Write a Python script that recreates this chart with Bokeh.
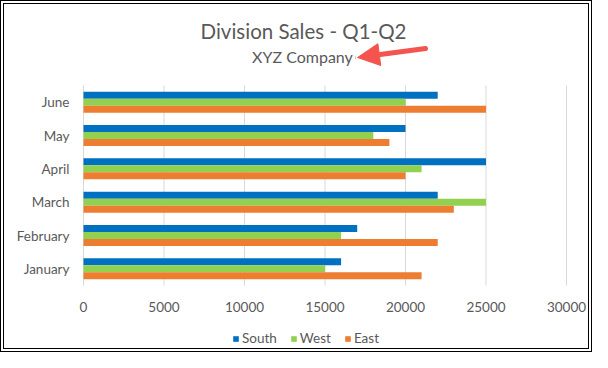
from bokeh.plotting import figure
from bokeh.models import (FixedTicker, Legend, LegendItem, Label, Arrow, NormalHead,
                          ColumnDataSource, Range1d)
from bokeh.core.properties import value
from bokeh.embed import file_html
from bokeh.resources import INLINE

months = ["January", "February", "March", "April", "May", "June"]
series = ["South", "West", "East"]
south = [16000, 17000, 22000, 25000, 20000, 22000]
west = [15000, 16000, 25000, 21000, 18000, 20000]
east = [21000, 22000, 23000, 20000, 19000, 25000]
x_ticks = [0, 5000, 10000, 15000, 20000, 25000, 30000]
x_tick_labels = [str(t) for t in x_ticks]
colors = ["#0070C0", "#92D050", "#ED7D31"]
title_text = "Division Sales - Q1-Q2"
subtitle_text = "XYZ Company"

FONT = "Lato"
TXT = "#595959"
RED = "#F4534E"
n = len(months)
y_top = 7.95
y_bottom = -2.01
x_start = -497
x_end = 31366

p = figure(width=592, height=352, output_backend="svg", toolbar_location=None,
           x_range=Range1d(x_start, x_end), y_range=Range1d(y_bottom, y_top),
           x_axis_location=None,
           min_border_left=71, min_border_right=8, min_border_top=16, min_border_bottom=4)
p.title.visible = False
p.styles = {"border": "4px double #000000"}
p.outline_line_color = None
p.background_fill_color = "white"
p.border_fill_color = "white"

# vertical gridlines over the category area only
p.segment(x0=x_ticks, x1=x_ticks, y0=[0] * len(x_ticks), y1=[n] * len(x_ticks),
          line_color="#D9D9D9", line_width=1)

bar_h = 0.21
offsets = [bar_h, 0.0, -bar_h]
renderers = []
for vals, off, col, name in zip([south, west, east], offsets, colors, series):
    src = ColumnDataSource(dict(y=[i + 0.5 + off for i in range(n)], x=vals))
    r = p.hbar(y="y", right="x", left=0, height=bar_h, source=src, fill_color=col,
               line_color=None)
    renderers.append((name, r))

# value-axis tick labels, placed through the x scale
p.text(x=x_ticks, y=[-0.63] * len(x_ticks), text=x_tick_labels,
       text_font=value(FONT), text_font_size="13.5px", text_color=TXT,
       text_align="center", text_baseline="middle")

ya = p.yaxis[0]
ya.ticker = FixedTicker(ticks=[i + 0.5 for i in range(n)])
ya.major_label_overrides = {i + 0.5: m for i, m in enumerate(months)}
ya.axis_line_color = None
ya.major_tick_line_color = None
ya.minor_tick_line_color = None
ya.major_tick_out = 0
ya.minor_tick_out = 0
ya.major_tick_in = 0
ya.minor_tick_in = 0
ya.major_label_text_font = FONT
ya.major_label_text_font_size = "13.5px"
ya.major_label_text_color = TXT
ya.major_label_standoff = 6
p.xgrid.grid_line_color = None
p.ygrid.grid_line_color = None

legend = Legend(items=[LegendItem(label=s, renderers=[r]) for s, r in renderers],
                orientation="horizontal", location=(157, 6),
                label_text_font=FONT, label_text_font_size="13.5px", label_text_color=TXT,
                glyph_width=7, glyph_height=7, label_standoff=3, spacing=13,
                border_line_color=None, background_fill_alpha=0, padding=0, margin=0)
p.add_layout(legend, "center")

p.add_layout(Label(x=13665, y=7.635, text=title_text, text_align="center",
                   text_baseline="middle", text_font=FONT, text_font_size="20.5px",
                   text_color=TXT))
p.add_layout(Label(x=13600, y=6.87, text=subtitle_text, text_align="center",
                   text_baseline="middle", text_font=FONT, text_font_size="16px",
                   text_color=TXT))
p.add_layout(Arrow(x_start=21242, y_start=7.11, x_end=17019, y_end=6.84,
                   line_color=RED, line_width=5, line_cap="round",
                   end=NormalHead(size=22, fill_color=RED, line_color=RED)))

open("out.html", "w").write(file_html(p, INLINE))
